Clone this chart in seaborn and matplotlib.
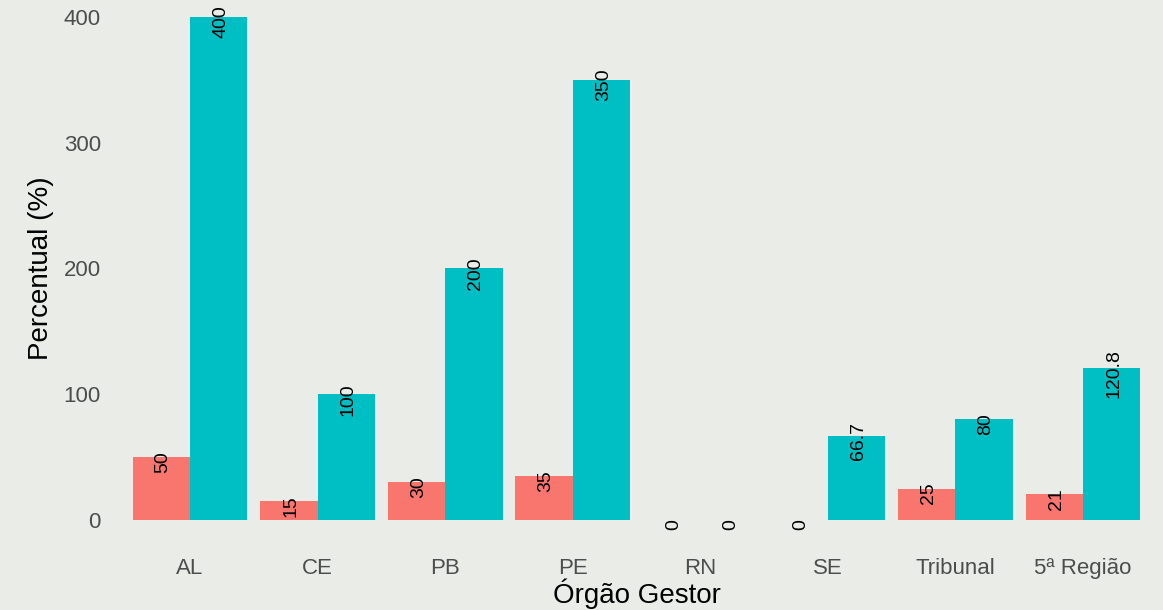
# plot.py - grouped bar chart of percentual by orgao gestor
import numpy as np
import pandas as pd
import seaborn as sns
import matplotlib.pyplot as plt

# --- data ---
orgaos = ["AL", "CE", "PB", "PE", "RN", "SE", "Tribunal", "5ª Região"]
series = ["Série 1", "Série 2"]
serie_1 = [50, 15, 30, 35, 0, 0, 25, 21]
serie_2 = [400, 100, 200, 350, 0, 66.7, 80, 120.8]

df = pd.DataFrame({
    "orgao": orgaos * 2,
    "serie": [series[0]] * len(orgaos) + [series[1]] * len(orgaos),
    "valor": serie_1 + serie_2,
})

# --- style ---
paper = "#E9ECE7"
sns.set_theme(style="white")
plt.rcParams["font.family"] = ["Liberation Sans", "DejaVu Sans"]

fig = plt.figure(figsize=(11.63, 6.10), dpi=100, facecolor=paper)
ax = fig.add_axes([0.0975, 0.1063, 0.8996, 0.9071])
ax.set_facecolor(paper)

sns.barplot(
    data=df, x="orgao", y="valor", hue="serie",
    order=orgaos, hue_order=series,
    palette=["#F8766D", "#00BFC4"],
    width=0.9, gap=0, saturation=1,
    linewidth=0, edgecolor="none",
    legend=False, ax=ax,
)

# value labels, rotated, centred just under each bar top
for container, vals in zip(ax.containers, [serie_1, serie_2]):
    for bar, v in zip(container, vals):
        ax.text(
            bar.get_x() + bar.get_width() / 2 + 0.015, v - 4, f"{v:g}",
            rotation=90, ha="center", va="center",
            fontsize=14, color="black",
        )

ax.set_xlim(-0.6, len(orgaos) - 0.4)
ax.set_ylim(-20, 420)
ax.set_yticks([0, 100, 200, 300, 400])

for side in ["top", "right", "bottom", "left"]:
    ax.spines[side].set_visible(False)
ax.grid(False)
ax.tick_params(axis="x", length=0, pad=9.4, labelsize=16, labelcolor="#4D4D4D")
ax.tick_params(axis="y", length=0, pad=9, labelsize=16, labelcolor="#4D4D4D")

ax.set_xlabel("Órgão Gestor", fontsize=20, color="black")
ax.set_ylabel("Percentual (%)", fontsize=20, color="black")
ax.xaxis.set_label_coords(0.5, -0.0594)
ax.yaxis.set_label_coords(-0.0568, 0.5)

fig.savefig("out.png", dpi=100, facecolor=paper)
# EoF plot.py
